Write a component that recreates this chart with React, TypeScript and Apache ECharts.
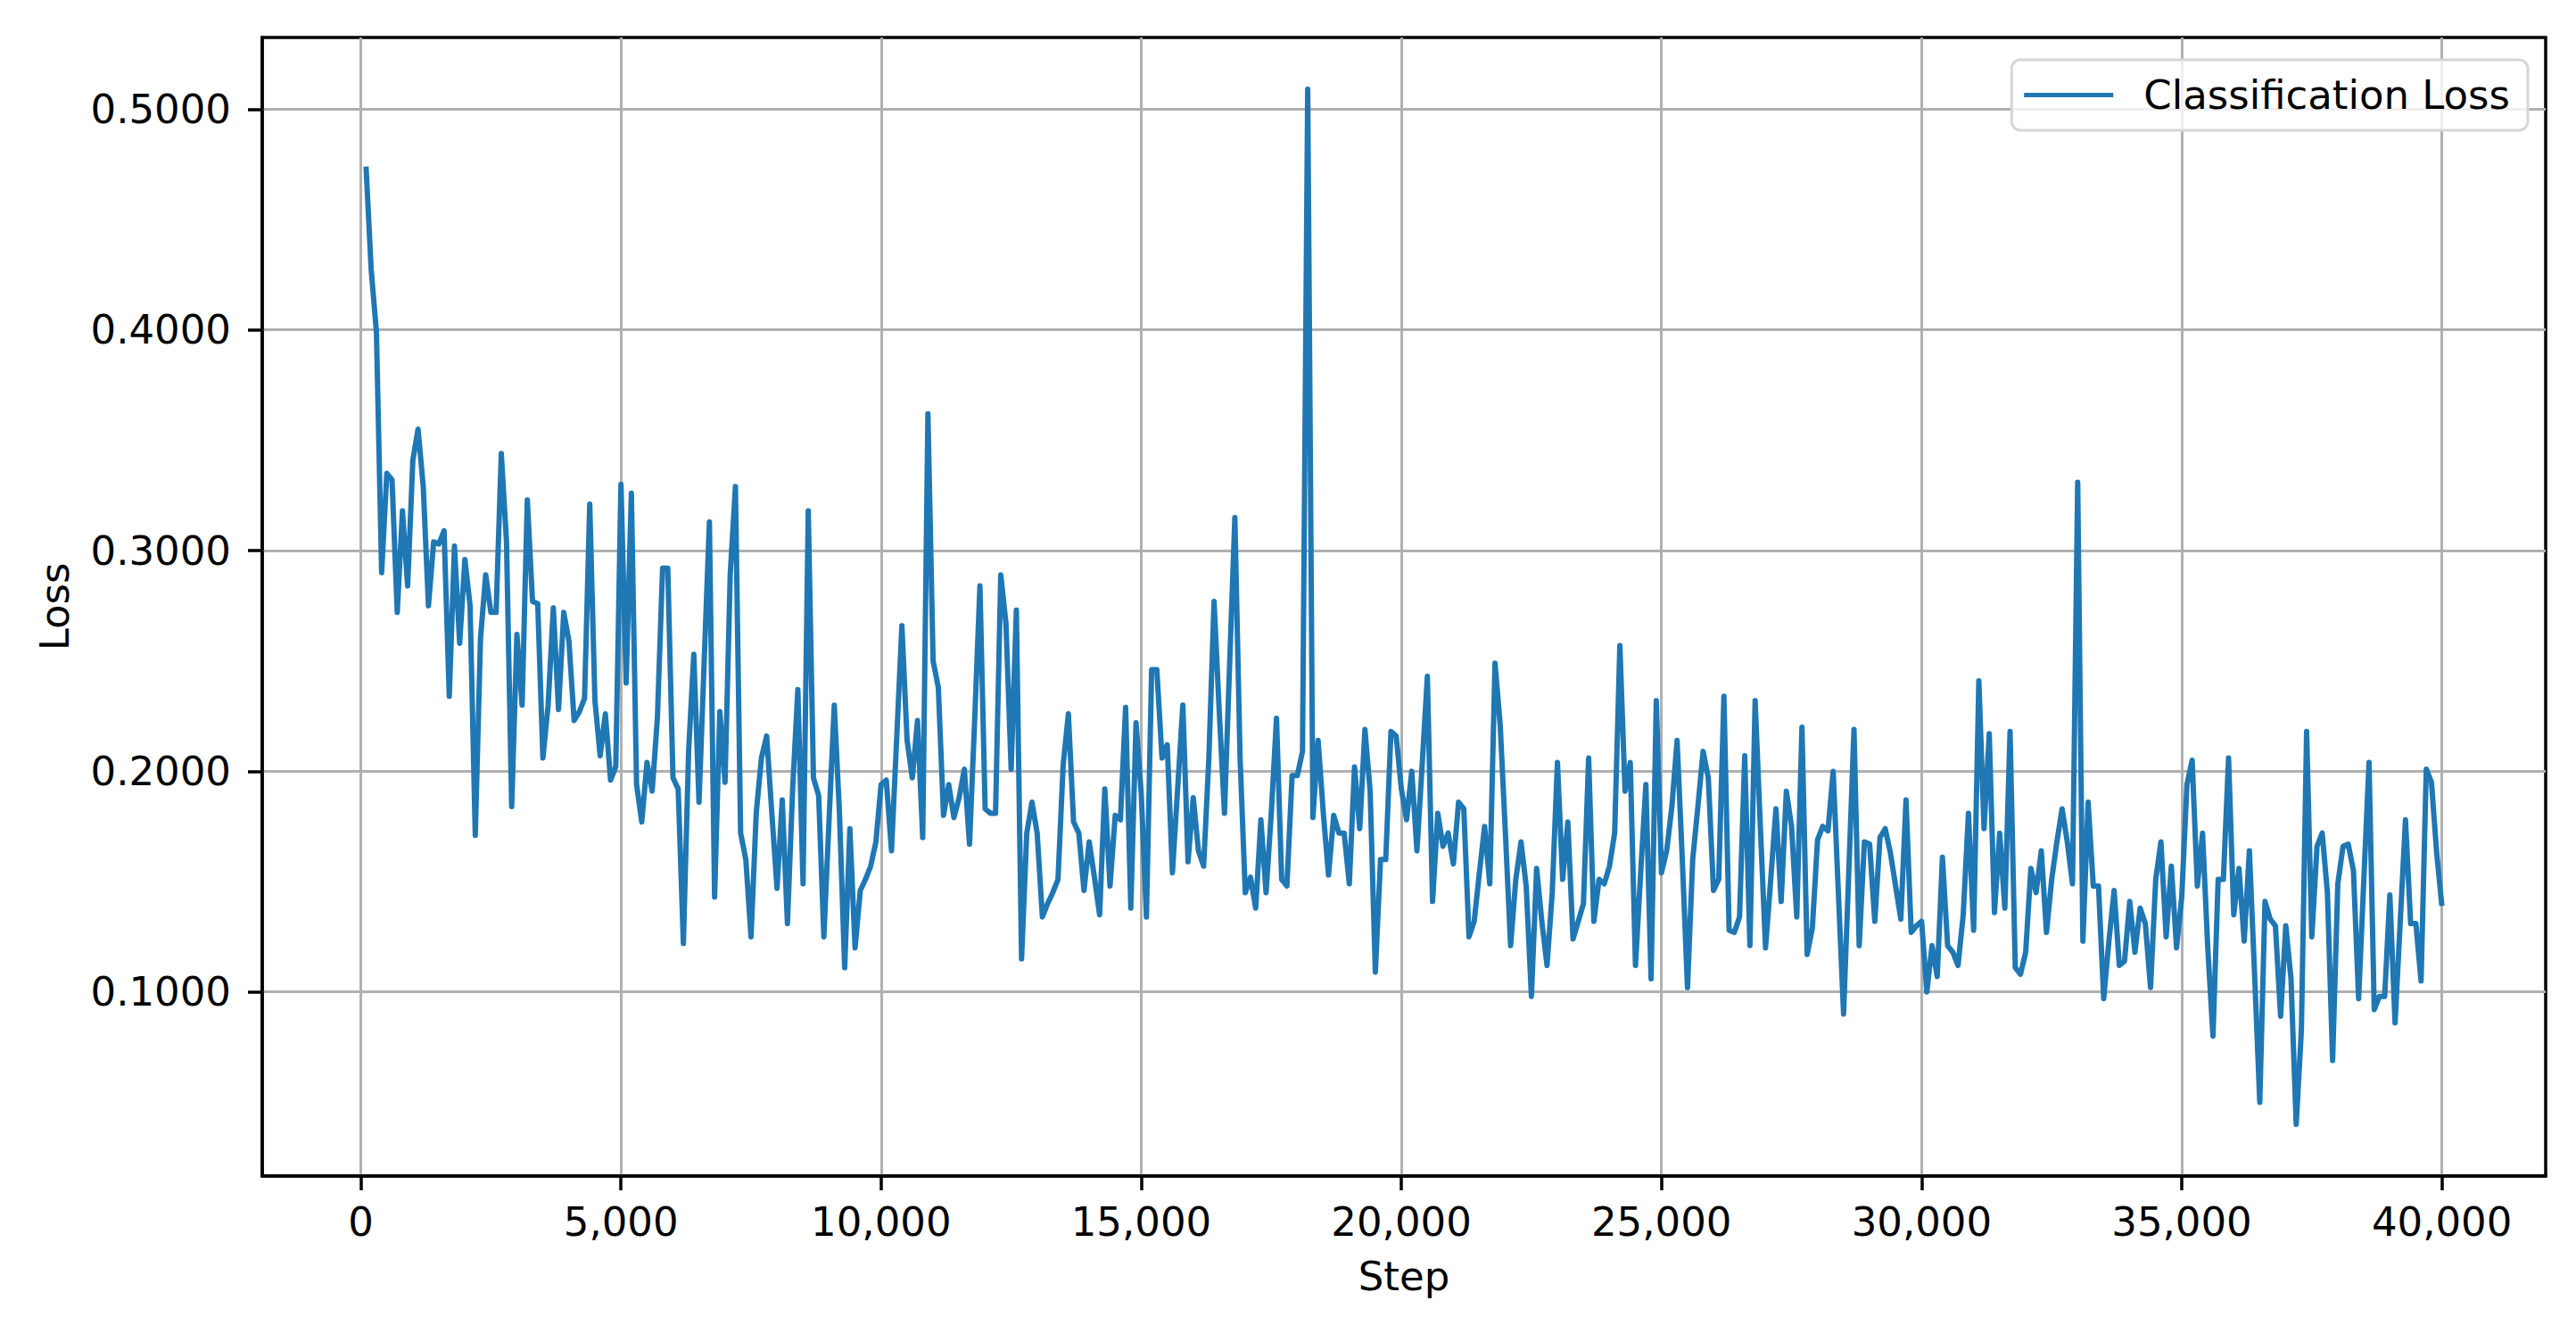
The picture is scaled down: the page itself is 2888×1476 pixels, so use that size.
import React, { useEffect, useRef } from "react";
import * as echarts from "echarts";

// Training steps: one logged value every 100 steps, from 100 to 40,000
const STEP_FIRST = 100;
const STEP_SIZE = 100;

// Classification loss, in blocks of 5,000 steps
const loss0to5k = [
  0.474, 0.427, 0.399, 0.29, 0.335, 0.332, 0.272, 0.318, 0.284, 0.341,
  0.355, 0.329, 0.275, 0.304, 0.303, 0.309, 0.234, 0.302, 0.258, 0.296,
  0.275, 0.171, 0.26, 0.289, 0.272, 0.272, 0.344, 0.304, 0.184, 0.262,
  0.23, 0.323, 0.277, 0.276, 0.206, 0.23, 0.274, 0.228, 0.272, 0.259,
  0.223, 0.227, 0.233, 0.321, 0.232, 0.207, 0.226, 0.196, 0.202, 0.33,
];
const loss5to10k = [
  0.24, 0.326, 0.194, 0.177, 0.204, 0.191, 0.224, 0.292, 0.292, 0.197,
  0.192, 0.122, 0.209, 0.253, 0.186, 0.25, 0.313, 0.143, 0.227, 0.195,
  0.289, 0.329, 0.172, 0.16, 0.125, 0.181, 0.206, 0.216, 0.181, 0.147,
  0.187, 0.131, 0.192, 0.237, 0.149, 0.318, 0.197, 0.189, 0.125, 0.178,
  0.23, 0.181, 0.111, 0.174, 0.12, 0.146, 0.151, 0.157, 0.168, 0.194,
];
const loss10to15k = [
  0.196, 0.164, 0.215, 0.266, 0.214, 0.197, 0.223, 0.17, 0.362, 0.25,
  0.238, 0.18, 0.194, 0.179, 0.188, 0.201, 0.167, 0.224, 0.284, 0.183,
  0.181, 0.181, 0.289, 0.267, 0.201, 0.273, 0.115, 0.172, 0.186, 0.172,
  0.134, 0.14, 0.145, 0.151, 0.203, 0.226, 0.177, 0.172, 0.146, 0.168,
  0.152, 0.135, 0.192, 0.148, 0.18, 0.178, 0.229, 0.138, 0.222, 0.19,
];
const loss15to20k = [
  0.134, 0.246, 0.246, 0.206, 0.212, 0.154, 0.192, 0.23, 0.159, 0.188,
  0.164, 0.157, 0.206, 0.277, 0.227, 0.181, 0.249, 0.315, 0.206, 0.145,
  0.152, 0.138, 0.178, 0.145, 0.181, 0.224, 0.151, 0.148, 0.198, 0.198,
  0.209, 0.509, 0.179, 0.214, 0.181, 0.153, 0.18, 0.172, 0.172, 0.149,
  0.202, 0.174, 0.219, 0.191, 0.109, 0.16, 0.16, 0.218, 0.216, 0.192,
];
const loss20to25k = [
  0.178, 0.2, 0.164, 0.203, 0.243, 0.141, 0.181, 0.166, 0.172, 0.158,
  0.186, 0.183, 0.125, 0.132, 0.154, 0.175, 0.149, 0.249, 0.221, 0.172,
  0.121, 0.151, 0.168, 0.148, 0.098, 0.156, 0.132, 0.112, 0.145, 0.204,
  0.151, 0.177, 0.124, 0.132, 0.14, 0.206, 0.132, 0.151, 0.149, 0.157,
  0.172, 0.257, 0.191, 0.204, 0.112, 0.154, 0.194, 0.106, 0.232, 0.154,
];
const loss25to30k = [
  0.164, 0.184, 0.214, 0.16, 0.102, 0.16, 0.184, 0.209, 0.197, 0.146,
  0.151, 0.234, 0.128, 0.127, 0.134, 0.207, 0.121, 0.232, 0.175, 0.12,
  0.151, 0.183, 0.141, 0.191, 0.175, 0.134, 0.22, 0.117, 0.129, 0.169,
  0.175, 0.173, 0.2, 0.145, 0.09, 0.154, 0.219, 0.121, 0.168, 0.167,
  0.132, 0.17, 0.174, 0.163, 0.148, 0.133, 0.187, 0.127, 0.13, 0.132,
];
const loss30to35k = [
  0.1, 0.121, 0.107, 0.161, 0.121, 0.118, 0.112, 0.135, 0.181, 0.128,
  0.241, 0.174, 0.217, 0.136, 0.172, 0.138, 0.218, 0.111, 0.108, 0.118,
  0.156, 0.145, 0.164, 0.127, 0.151, 0.168, 0.183, 0.168, 0.149, 0.331,
  0.123, 0.186, 0.148, 0.148, 0.097, 0.123, 0.146, 0.112, 0.114, 0.141,
  0.118, 0.138, 0.131, 0.102, 0.151, 0.168, 0.125, 0.157, 0.12, 0.143,
];
const loss35to40k = [
  0.194, 0.205, 0.148, 0.172, 0.12, 0.08, 0.151, 0.151, 0.206, 0.135,
  0.156, 0.123, 0.164, 0.108, 0.05, 0.141, 0.133, 0.13, 0.089, 0.13,
  0.106, 0.04, 0.083, 0.218, 0.125, 0.166, 0.172, 0.145, 0.069, 0.149,
  0.166, 0.167, 0.155, 0.097, 0.151, 0.204, 0.092, 0.098, 0.098, 0.144,
  0.086, 0.132, 0.178, 0.131, 0.131, 0.105, 0.201, 0.195, 0.163, 0.139,
];

// Tick positions
const xTicks = [0, 5000, 10000, 15000, 20000, 25000, 30000, 35000, 40000];
const yTicks = [0.1, 0.2, 0.3, 0.4, 0.5];

const SERIES_NAME = "Classification Loss";
const X_NAME = "Step";
const Y_NAME = "Loss";

const FONT = "DejaVu Sans";

function withCommas(v: number): string {
  return String(Math.round(v)).replace(/\B(?=(\d{3})+(?!\d))/g, ",");
}

export default function App() {
  const ref = useRef<HTMLDivElement>(null);

  useEffect(() => {
    if (!ref.current) return;
    const chart = echarts.init(ref.current, null, { renderer: "svg" });

    const lossValues = [
      ...loss0to5k,
      ...loss5to10k,
      ...loss10to15k,
      ...loss15to20k,
      ...loss20to25k,
      ...loss25to30k,
      ...loss30to35k,
      ...loss35to40k,
    ];
    const data = lossValues.map((v, i) => [STEP_FIRST + i * STEP_SIZE, v]);

    const xMin = -1895;
    const xMax = 41995;
    const yMin = 0.0166;
    const yMax = 0.5325;

    const tickLine = { color: "#000000", width: 3.5 };
    const spineLine = { color: "#000000", width: 3.5 };
    const gridLine = { color: "#b0b0b0", width: 3 };

    chart.setOption({
      animation: false,
      backgroundColor: "#ffffff",
      textStyle: { fontFamily: FONT },
      grid: {
        left: 294,
        right: 34,
        top: 42,
        bottom: 158,
        show: true,
        borderColor: "#000000",
        borderWidth: 3.5,
        backgroundColor: "transparent",
        containLabel: false,
      },
      legend: {
        show: true,
        right: 54,
        top: 67,
        orient: "horizontal",
        icon: "rect",
        itemWidth: 100,
        itemHeight: 5,
        padding: [17, 20, 17, 14],
        backgroundColor: "rgba(255,255,255,0.8)",
        borderColor: "#d6d6d6",
        borderWidth: 3,
        borderRadius: 10,
        textStyle: {
          fontFamily: FONT,
          fontSize: 45,
          color: "#000000",
          padding: [0, 0, 0, 29],
        },
        data: [SERIES_NAME],
      },
      xAxis: {
        type: "value",
        position: "bottom",
        min: xMin,
        max: xMax,
        minInterval: 5000,
        maxInterval: 5000,
        splitNumber: 9,
        axisLine: { show: true, onZero: false, lineStyle: spineLine },
        axisTick: {
          show: true,
          length: 16,
          lineStyle: tickLine,
          customValues: xTicks,
        },
        axisLabel: {
          customValues: xTicks,
          formatter: (v: number) => withCommas(v),
          fontFamily: FONT,
          fontSize: 45,
          color: "#000000",
          margin: 29,
        },
        splitLine: { show: true, lineStyle: gridLine },
        name: X_NAME,
        nameLocation: "middle",
        nameGap: 90,
        nameTextStyle: { fontFamily: FONT, fontSize: 45, color: "#000000" },
      },
      yAxis: {
        type: "value",
        position: "left",
        min: yMin,
        max: yMax,
        minInterval: 0.1,
        maxInterval: 0.1,
        splitNumber: 5,
        axisLine: { show: true, onZero: false, lineStyle: spineLine },
        axisTick: {
          show: true,
          length: 16,
          lineStyle: tickLine,
          customValues: yTicks,
        },
        axisLabel: {
          customValues: yTicks,
          formatter: (v: number) => v.toFixed(4),
          fontFamily: FONT,
          fontSize: 45,
          color: "#000000",
          margin: 35,
        },
        splitLine: { show: true, lineStyle: gridLine },
        name: Y_NAME,
        nameLocation: "middle",
        nameRotate: 90,
        nameGap: 210,
        nameTextStyle: { fontFamily: FONT, fontSize: 45, color: "#000000" },
      },
      series: [
        {
          name: SERIES_NAME,
          type: "line",
          data,
          showSymbol: false,
          symbol: "none",
          lineStyle: { color: "#1f77b4", width: 6, join: "round" },
          itemStyle: { color: "#1f77b4" },
          z: 3,
        },
      ],
    });

    return () => {
      chart.dispose();
    };
  }, []);

  return (
    <div
      ref={ref}
      style={{ position: "absolute", left: 0, top: 0, width: 2888, height: 1476 }}
    />
  );
}
